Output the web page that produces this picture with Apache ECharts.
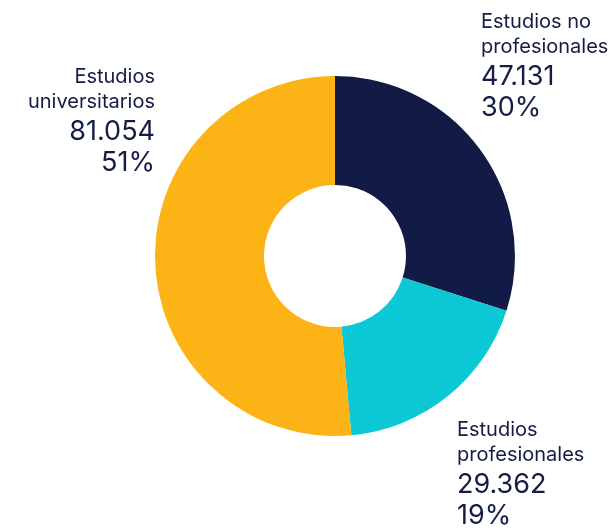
<!DOCTYPE html>
<html>
<head>
<meta charset="utf-8">
<script src="https://cdn.jsdelivr.net/npm/echarts@6/dist/echarts.min.js"></script>
<style>
  html, body { margin: 0; padding: 0; background: #fff; }
  #chart { width: 616px; height: 529px; }
</style>
</head>
<body>
<div id="chart"></div>
<script>
const categories = ['Estudios no\nprofesionales', 'Estudios\nprofesionales', 'Estudios\nuniversitarios']
const values = [47131, 29362, 81054]
const colors = ['#121b45', '#0bc8d4', '#fcb316']

// label anchor per slice (top-left / top-right corner of the text block)
const labelPos = [
  { x: 481, y: 9, align: 'left' },
  { x: 457, y: 417, align: 'left' },
  { x: 155, y: 64, align: 'right' }
]

const total = values.reduce((a, b) => a + b, 0)

function fmt(n) {
  return String(n).replace(/\B(?=(\d{3})+(?!\d))/g, '.')
}

const chart = echarts.init(document.getElementById('chart'))

chart.setOption({
  animation: false,
  series: [{
    type: 'pie',
    center: [335, 256],
    radius: [71, 180],
    startAngle: 90,
    clockwise: true,
    silent: true,
    itemStyle: { borderWidth: 0 },
    labelLine: { show: false },
    label: {
      show: true,
      position: 'outside',
      overflow: 'none',
      edgeDistance: 0,
      bleedMargin: 0,
      formatter: (p) => {
        const pct = Math.round(p.value / total * 100)
        const nameLines = p.name.split('\n').map(s => '{n|' + s + '}').join('\n')
        return nameLines + '\n{a|' + fmt(p.value) + '}\n{v|' + pct + '%}'
      },
      rich: {
        n: { fontFamily: 'Inter', fontSize: 20, lineHeight: 25, color: '#141c47' },
        a: { fontFamily: 'Inter', fontSize: 27, lineHeight: 31, padding: [5, 0, 0, 0], color: '#141c47' },
        v: { fontFamily: 'Inter', fontSize: 27, lineHeight: 31, padding: [5, 0, 0, 0], color: '#141c47' }
      }
    },
    labelLayout: (params) => {
      const pos = labelPos[params.dataIndex]
      return { x: pos.x, y: pos.y, align: pos.align, verticalAlign: 'top', hideOverlap: false }
    },
    data: categories.map((name, i) => ({
      name: name,
      value: values[i],
      itemStyle: { color: colors[i] }
    }))
  }]
})
</script>
</body>
</html>
